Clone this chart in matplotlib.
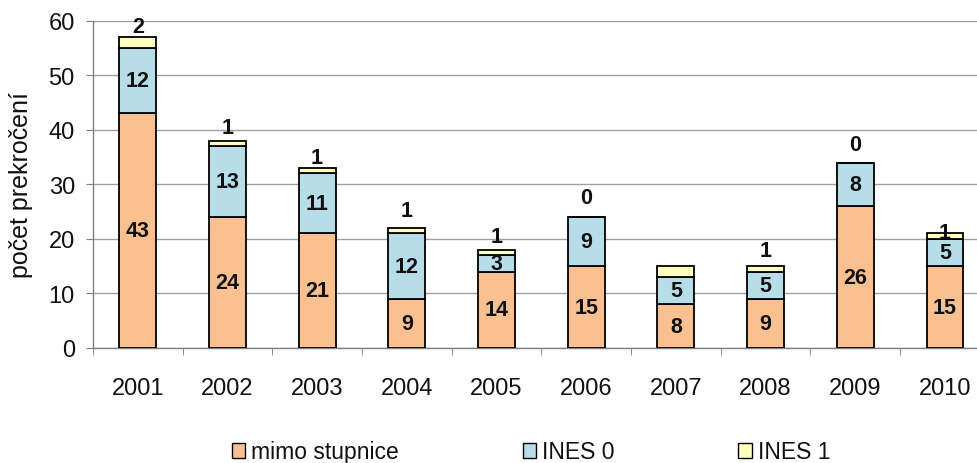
import numpy as np
import matplotlib.pyplot as plt
from matplotlib.patches import Patch

plt.rcParams['font.family'] = ['Liberation Sans', 'DejaVu Sans']

years = ['2001', '2002', '2003', '2004', '2005', '2006', '2007', '2008', '2009', '2010']
mimo = [43, 24, 21, 9, 14, 15, 8, 9, 26, 15]
ines0 = [12, 13, 11, 12, 3, 9, 5, 5, 8, 5]
ines1 = [2, 1, 1, 1, 1, 0, 2, 1, 0, 1]
show_ines1 = [True, True, True, True, True, True, False, True, True, True]

c_mimo = '#fac090'
c_ines0 = '#b7dee8'
c_ines1 = '#ffffc0'

fig = plt.figure(figsize=(9.78, 4.64), dpi=100)
ax = fig.add_axes([0.095, 0.248, 0.917, 0.705])

x = np.arange(len(years))
w = 0.41
mimo = np.array(mimo)
ines0 = np.array(ines0)
ines1 = np.array(ines1)

ax.bar(x, mimo, w, color=c_mimo, edgecolor='black', linewidth=1.3, zorder=3)
ax.bar(x, ines0, w, bottom=mimo, color=c_ines0, edgecolor='black', linewidth=1.3, zorder=3)
ax.bar(x, ines1, w, bottom=mimo + ines0, color=c_ines1, edgecolor='black', linewidth=1.3, zorder=3)

lab = dict(ha='center', va='center', fontsize=15.5, fontweight='bold', color='#111111', zorder=5)
# labels for INES 1 sit above the bar (manually moved in the original)
above = [1.9, 2.4, 2.0, 3.2, 2.5, 3.5, 0, 2.8, 3.4, 0.1]
for i in range(len(years)):
    ax.text(x[i], mimo[i] / 2, str(mimo[i]), **lab)
    ax.text(x[i], mimo[i] + ines0[i] / 2, str(ines0[i]), **lab)
    if show_ines1[i]:
        top = mimo[i] + ines0[i] + ines1[i]
        ax.text(x[i], top + above[i], str(ines1[i]), **lab)

ax.set_xlim(-0.5, 9.5)
ax.set_ylim(0, 60)
ax.set_yticks(range(0, 61, 10))
ax.set_xticks(x)
ax.set_xticklabels(years)
ax.set_xticks(np.arange(-0.5, 10, 1), minor=True)
ax.tick_params(axis='x', which='major', length=0, pad=21, labelsize=17, labelcolor='#111111')
ax.tick_params(axis='x', which='minor', length=5, color='#808080', direction='out')
ax.tick_params(axis='y', length=5, color='#808080', labelsize=17, pad=8, labelcolor='#111111')
ax.set_ylabel('počet prekročení', fontsize=18, labelpad=11, color='#111111')

ax.yaxis.grid(True, color='#a0a0a0', linewidth=1, zorder=0)
for s in ['top', 'right']:
    ax.spines[s].set_visible(False)
for s in ['left', 'bottom']:
    ax.spines[s].set_color('#808080')
    ax.spines[s].set_linewidth(1)

handles = [Patch(facecolor=c_mimo, edgecolor='black', label='mimo stupnice'),
           Patch(facecolor=c_ines0, edgecolor='black', label='INES 0'),
           Patch(facecolor=c_ines1, edgecolor='black', label='INES 1')]
fig.legend(handles=handles, loc='center', bbox_to_anchor=(0.543, 0.024), ncol=3,
           frameon=False, fontsize=16.5, handlelength=0.6, handleheight=0.6,
           handletextpad=0.25, columnspacing=5.4, labelcolor='#111111')

fig.savefig('out.png', dpi=100)
